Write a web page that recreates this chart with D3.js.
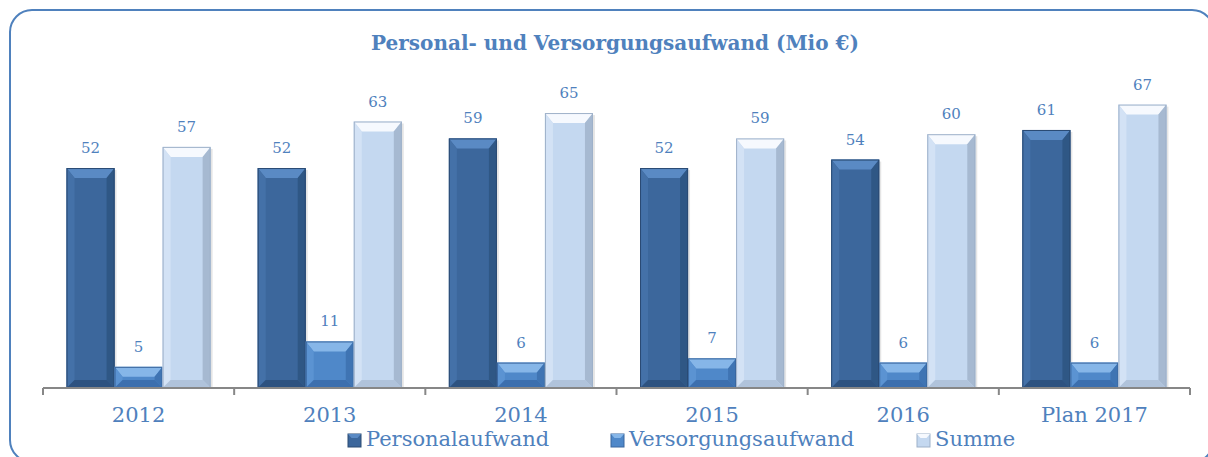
<!DOCTYPE html>
<html lang="de">
<head>
<meta charset="utf-8">
<title>Personal- und Versorgungsaufwand</title>
<script src="https://d3js.org/d3.v7.min.js"></script>
<style>
  body { margin: 0; background: #fff; }
  svg { display: block; }
  text { font-family: "DejaVu Serif", serif; fill: #4f81bd; }
</style>
</head>
<body>
<script>
// data
var years = ["2012", "2013", "2014", "2015", "2016", "Plan 2017"];
var seriesNames = ["Personalaufwand", "Versorgungsaufwand", "Summe"];
var personal = [52, 52, 59, 52, 54, 61];
var versorgung = [5, 11, 6, 7, 6, 6];
var summe = [57, 63, 65, 59, 60, 67];

var w = 1208, h = 457;

// colour sets per series: main, top, left, right, bottom, edge
var palette = [
  { main: "#3c679c", top: "#5a8ac4", left: "#4471a8", right: "#2f5785", bottom: "#2d5280", edge: "#2a4a73" },
  { main: "#4f88c9", top: "#86b6e8", left: "#5b93d2", right: "#3f74b3", bottom: "#3c6fae", edge: "#3a679e" },
  { main: "#c4d8f0", top: "#f6f9fe", left: "#d3e2f5", right: "#a6b9d1", bottom: "#b0c3db", edge: "#9eb1c9" }
];

var svg = d3.select("body").append("svg")
  .attr("width", w)
  .attr("height", h);

// outer frame
svg.append("rect")
  .attr("x", 10).attr("y", 10)
  .attr("width", 1204).attr("height", 452)
  .attr("rx", 22).attr("ry", 22)
  .attr("fill", "#fff")
  .attr("stroke", "#4f81bd")
  .attr("stroke-width", 2);

svg.append("text")
  .attr("x", 615).attr("y", 50)
  .attr("text-anchor", "middle")
  .style("font-weight", "bold")
  .style("font-size", "20px")
  .text("Personal- und Versorgungsaufwand (Mio €)");

var x0 = d3.scaleBand().domain(years).range([43, 1190]).paddingInner(0).paddingOuter(0);
var x1 = d3.scaleBand().domain(seriesNames).range([0, x0.bandwidth()]).paddingInner(0).paddingOuter(0.49);
var y = d3.scaleLinear().domain([0, 70]).range([388, 388 - 4.23 * 70]);

var rows = years.map(function (yr, i) {
  return { year: yr, values: [personal[i], versorgung[i], summe[i]] };
});

var bev = 8;

var groups = svg.selectAll("g.year")
  .data(rows)
  .enter().append("g")
  .attr("class", "year")
  .attr("transform", function (d) { return "translate(" + x0(d.year) + ",0)"; });

groups.each(function (d) {
  var g = d3.select(this);
  d.values.forEach(function (v, k) {
    var c = palette[k];
    var bx = x1(seriesNames[k]), bw = x1.bandwidth();
    var top = y(v), bot = y(0);
    var b = Math.min(bev, (bot - top) / 2);
    var bt = Math.min(10, (bot - top) / 2);
    // shadow
    g.append("rect")
      .attr("x", bx + 2).attr("y", top + 2)
      .attr("width", bw).attr("height", bot - top - 2)
      .attr("fill", "#000").attr("opacity", 0.1);
    g.append("rect")
      .attr("x", bx).attr("y", top)
      .attr("width", bw).attr("height", bot - top)
      .attr("fill", c.main);
    var L = bx, R = bx + bw;
    // facets
    g.append("polygon").attr("fill", c.top)
      .attr("points", [[L, top], [R, top], [R - b, top + bt], [L + b, top + bt]].join(" "));
    g.append("polygon").attr("fill", c.left)
      .attr("points", [[L, top], [L + b, top + bt], [L + b, bot - b], [L, bot]].join(" "));
    g.append("polygon").attr("fill", c.right)
      .attr("points", [[R, top], [R - b, top + bt], [R - b, bot - b], [R, bot]].join(" "));
    g.append("polygon").attr("fill", c.bottom)
      .attr("points", [[L, bot], [L + b, bot - b], [R - b, bot - b], [R, bot]].join(" "));
    g.append("rect")
      .attr("x", bx + 0.5).attr("y", top + 0.5)
      .attr("width", bw - 1).attr("height", bot - top - 1)
      .attr("fill", "none").attr("stroke", c.edge).attr("stroke-width", 1);
    g.append("text")
      .attr("x", bx + bw / 2).attr("y", top - 15)
      .attr("text-anchor", "middle")
      .style("font-size", "15px")
      .text(v);
  });
});

// axis
var axis = svg.append("g");
axis.append("line")
  .attr("x1", x0.range()[0]).attr("x2", x0.range()[1])
  .attr("y1", y(0)).attr("y2", y(0))
  .attr("stroke", "#878787").attr("stroke-width", 2);
var ticks = years.map(function (yr) { return x0(yr); }).concat([x0.range()[1]]);
axis.selectAll("line.tick").data(ticks).enter().append("line")
  .attr("class", "tick")
  .attr("x1", function (d) { return d; }).attr("x2", function (d) { return d; })
  .attr("y1", y(0)).attr("y2", y(0) + 7)
  .attr("stroke", "#878787").attr("stroke-width", 2);
axis.selectAll("text").data(years).enter().append("text")
  .attr("x", function (d) { return x0(d) + x0.bandwidth() / 2; })
  .attr("y", 422)
  .attr("text-anchor", "middle")
  .style("font-size", "21px")
  .text(function (d) { return d; });

// legend
var legX = [348, 611, 917];
var leg = svg.selectAll("g.leg").data(seriesNames).enter().append("g")
  .attr("class", "leg")
  .attr("transform", function (d, i) { return "translate(" + legX[i] + ",434)"; });
leg.append("rect").attr("width", 13).attr("height", 13)
  .attr("fill", function (d, i) { return palette[i].main; })
  .attr("stroke", function (d, i) { return palette[i].edge; });
leg.append("polygon")
  .attr("points", "0,0 13,0 9.5,4 3.5,4")
  .attr("fill", function (d, i) { return palette[i].top; });
leg.append("text")
  .attr("x", 18).attr("y", 12)
  .style("font-size", "21px")
  .text(function (d) { return d; });
</script>
</body>
</html>
